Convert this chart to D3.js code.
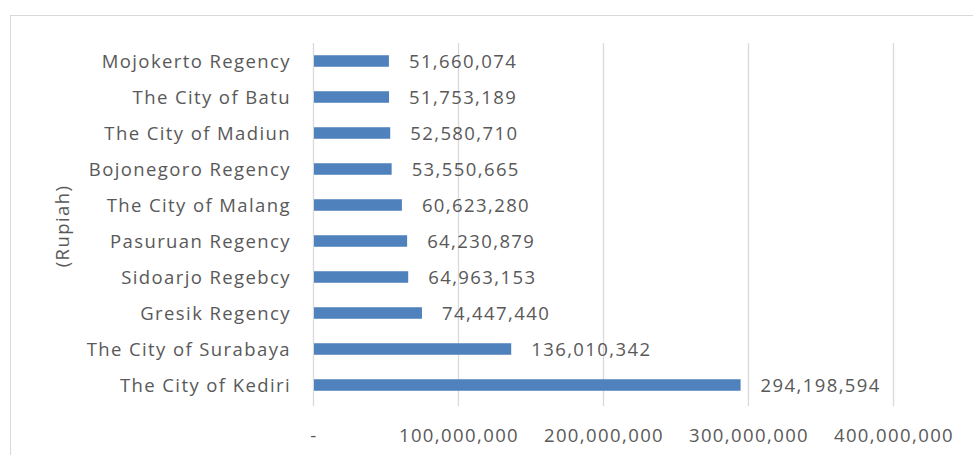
<!DOCTYPE html>
<html>
<head>
<meta charset="utf-8">
<script src="https://cdn.jsdelivr.net/npm/d3@7"></script>
<style>
  body { margin: 0; background: #fff; }
  text { font-family: "Open Sans", sans-serif; fill: #595959; letter-spacing: 1.4px; }
</style>
</head>
<body>
<div id="chart"></div>
<script>
const regions = ["Mojokerto Regency", "The City of Batu", "The City of Madiun", "Bojonegoro Regency",
  "The City of Malang", "Pasuruan Regency", "Sidoarjo Regebcy", "Gresik Regency",
  "The City of Surabaya", "The City of Kediri"];
const values = [51660074, 51753189, 52580710, 53550665, 60623280, 64230879, 64963153, 74447440, 136010342, 294198594];
const tickValues = [0, 100000000, 200000000, 300000000, 400000000];

const width = 973;
const height = 455;
const plotLeft = 313, plotRight = 893; // x-pixel range for 0 .. 400M
const plotTop = 43, plotBottom = 403;

const svg = d3.select("#chart")
    .append("svg")
    .attr("width", width)
    .attr("height", height);

// chart frame (cut off at right and bottom like the reference)
svg.append("rect")
    .attr("x", 10.5).attr("y", 15.5)
    .attr("width", 990).attr("height", 480)
    .attr("fill", "none")
    .attr("stroke", "#d9d9d9");

const x = d3.scaleLinear().domain([0, 400000000]).range([plotLeft, plotRight]);
const y = d3.scaleBand().domain(regions).range([plotTop, plotBottom])
    .paddingInner(0.68).paddingOuter(0.34);

const fmt = d3.format(",");
const fs = "18.5px";

// gridlines
svg.selectAll("line.grid")
    .data(tickValues)
    .join("line")
    .attr("class", "grid")
    .attr("x1", d => Math.round(x(d)) + 0.5)
    .attr("x2", d => Math.round(x(d)) + 0.5)
    .attr("y1", plotTop)
    .attr("y2", plotBottom + 3)
    .attr("stroke", "#d9d9d9")
    .attr("stroke-width", 1.3);

// tick labels
svg.selectAll("text.tick")
    .data(tickValues)
    .join("text")
    .attr("class", "tick")
    .attr("x", d => x(d) + 1)
    .attr("y", 442)
    .attr("text-anchor", "middle")
    .attr("font-size", fs)
    .text(d => d === 0 ? "-" : fmt(d));

// bars
svg.selectAll("rect.bar")
    .data(values)
    .join("rect")
    .attr("class", "bar")
    .attr("x", x(0) + 1)
    .attr("y", (d, i) => y(regions[i]))
    .attr("width", d => x(d) - x(0))
    .attr("height", y.bandwidth())
    .attr("fill", "#4f81bd");

// value labels
svg.selectAll("text.val")
    .data(values)
    .join("text")
    .attr("class", "val")
    .attr("x", d => x(d) + 21)
    .attr("y", (d, i) => y(regions[i]) + y.bandwidth() / 2 + 7)
    .attr("font-size", fs)
    .text(d => fmt(d));

// category labels
svg.selectAll("text.cat")
    .data(regions)
    .join("text")
    .attr("class", "cat")
    .attr("x", 291)
    .attr("y", d => y(d) + y.bandwidth() / 2 + 7)
    .attr("text-anchor", "end")
    .attr("font-size", fs)
    .text(d => d);

// axis title
svg.append("text")
    .attr("transform", "translate(69,226) rotate(-90)")
    .attr("text-anchor", "middle")
    .attr("font-size", fs)
    .text("(Rupiah)");
</script>
</body>
</html>
